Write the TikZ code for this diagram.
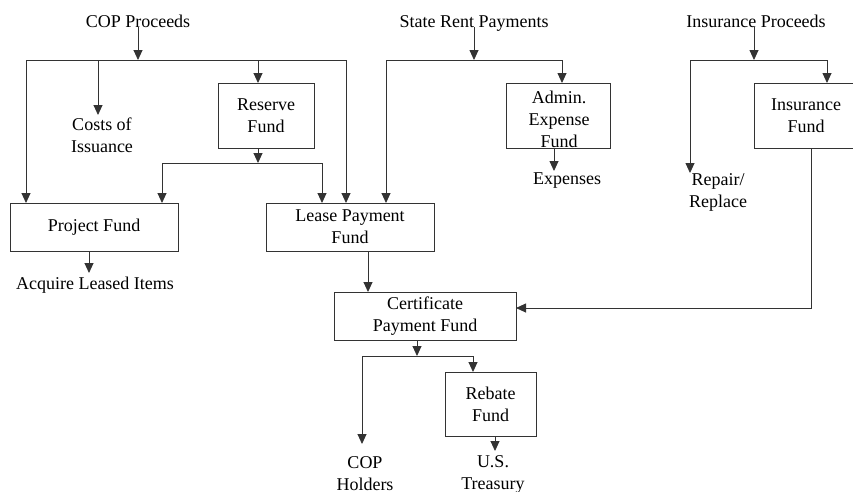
\documentclass[tikz,border=0pt]{standalone}
\usepackage{fontspec}
\setmainfont{Liberation Serif}
\usetikzlibrary{arrows.meta}
\begin{document}
\begin{tikzpicture}[x=1pt,y=-1pt,
  ln/.style={draw=black!80, line width=0.9pt},
  arr/.style={ln, -{Triangle[width=9pt,length=10pt]}},
  box/.style={draw=black!80, line width=0.9pt, inner sep=0pt, align=center, font=\fontsize{18}{22}\selectfont},
  txt/.style={inner sep=0pt, align=center, font=\fontsize{18}{22}\selectfont}]
\useasboundingbox (0,0) rectangle (853,491);
% sources
\node[txt, anchor=base] (copp) at (138,27) {COP Proceeds};
\node[txt, anchor=base] (srp) at (474,27) {State Rent Payments};
\node[txt, anchor=base] (insp) at (756,27) {Insurance Proceeds};
% boxes
\node[box, minimum width=96pt, minimum height=65pt] (res) at (266,115.5) {Reserve\\Fund};
\node[box, minimum width=168pt, minimum height=48pt] (pf) at (94,227) {Project Fund};
\node[box, minimum width=168pt, minimum height=48pt] (lp) at (350,227) {Lease Payment\\Fund};
\node[box, minimum width=104pt, minimum height=65pt] (adm) at (558,115.5) {};
\node[txt] (admt) at (559,119) {Admin.\\Expense\\Fund};
\node[box, minimum width=104pt, minimum height=65pt] (ins) at (806,115.5) {Insurance\\Fund};
\node[box, minimum width=182pt, minimum height=48pt] (cpf) at (425,316) {Certificate\\Payment Fund};
\node[box, minimum width=91pt, minimum height=64pt] (reb) at (490.5,404) {Rebate\\Fund};
% destinations
\node[txt] (coi) at (102,135) {Costs of\\Issuance};
\node[txt] (acq) at (95,285) {Acquire Leased Items};
\node[txt] (exp) at (567,181) {Expenses};
\node[txt] (rep) at (718,192) {Repair/\\Replace};
\node[txt] (coph) at (365,474) {COP\\Holders};
\node[txt] (ust) at (493,474) {U.S.\\Treasury};
% junction coordinates
\coordinate (j1) at (138,60);
\coordinate (pfa) at (26,203);
\coordinate (coia) at (98,115);
\coordinate (resa) at (258,83);
\coordinate (lpa) at (346,203);
\coordinate (reso) at (258,148);
\coordinate (j2) at (258,163);
\coordinate (pfb) at (162,203);
\coordinate (lpb) at (322,203);
\coordinate (pfo) at (89,251);
\coordinate (acqa) at (89,273);
\coordinate (j3) at (474,60);
\coordinate (lpc) at (386,203);
\coordinate (adma) at (562,83);
\coordinate (admo) at (554,148);
\coordinate (expa) at (554,171);
\coordinate (j4) at (754,60);
\coordinate (repa) at (690,173);
\coordinate (insa) at (827,83);
\coordinate (inso) at (811,148);
\coordinate (cpfa) at (516,308);
\coordinate (lpo) at (368,251);
\coordinate (cpfb) at (368,292);
\coordinate (cpfo) at (417,340);
\coordinate (j5) at (417,356);
\coordinate (copha) at (362,444);
\coordinate (reba) at (473,372);
\coordinate (rebo) at (495,436);
\coordinate (usta) at (495,451);
% COP Proceeds distribution
\draw[arr] (copp.base -| j1) -- (j1);
\draw[ln] (pfa |- j1) -- (lpa |- j1);
\draw[arr] (pfa |- j1) -- (pfa);
\draw[arr] (coia |- j1) -- (coia);
\draw[arr] (resa |- j1) -- (resa);
\draw[arr] (lpa |- j1) -- (lpa);
% Reserve Fund
\draw[arr] (reso) -- (j2);
\draw[ln] (pfb |- j2) -- (lpb |- j2);
\draw[arr] (pfb |- j2) -- (pfb);
\draw[arr] (lpb |- j2) -- (lpb);
% Project Fund
\draw[arr] (pfo) -- (acqa);
% State Rent Payments
\draw[arr] (srp.base -| j3) -- (j3);
\draw[ln] (lpc |- j3) -- (adma |- j3);
\draw[arr] (lpc |- j3) -- (lpc);
\draw[arr] (adma |- j3) -- (adma);
\draw[arr] (admo) -- (expa);
% Insurance Proceeds
\draw[arr] (insp.base -| j4) -- (j4);
\draw[ln] (repa |- j4) -- (insa |- j4);
\draw[arr] (repa |- j4) -- (repa);
\draw[arr] (insa |- j4) -- (insa);
\draw[arr] (inso) |- (cpfa);
% Lease Payment to Certificate
\draw[arr] (lpo) -- (cpfb);
% Certificate Payment Fund
\draw[arr] (cpfo) -- (j5);
\draw[ln] (copha |- j5) -- (reba |- j5);
\draw[arr] (copha |- j5) -- (copha);
\draw[arr] (reba |- j5) -- (reba);
\draw[arr] (rebo) -- (usta);
\end{tikzpicture}
\end{document}
